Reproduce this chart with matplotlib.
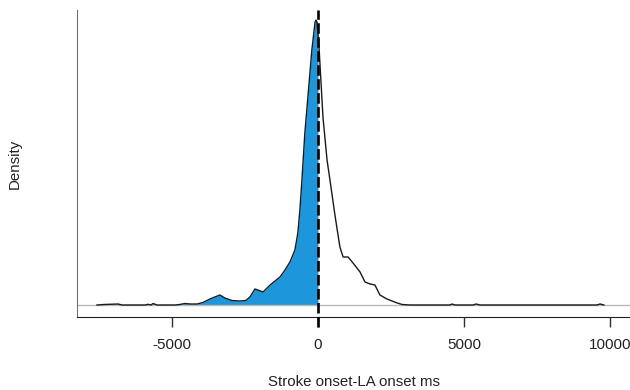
import numpy as np
import matplotlib
matplotlib.use("Agg")
import matplotlib.pyplot as plt

plt.rcParams['font.family'] = ['Liberation Sans', 'DejaVu Sans']

# Density estimate (x in ms, density in units of 1e-4)
onset_ms = [-7570, -7330, -6850, -6710, -5920, -5820, -5720, -5650, -5510,
            -4900, -4730, -4560, -4380, -4140, -3940, -3700, -3530, -3360,
            -3190, -2950, -2670, -2470, -2330, -2160, -2060, -1880, -1640,
            -1300, -1130, -960, -790, -690, -620, -550, -450, -340, -210,
            -100, -70, -35, 0, 35, 170, 310, 410, 580, 750, 860, 1030, 1200,
            1440, 1610, 1780, 1950, 2120, 2360, 2710, 2880, 3150, 4520, 4590,
            4690, 5310, 5410, 5550, 9550, 9660, 9790]
density = [0.0, 0.013, 0.026, 0.0, 0.0, 0.018, 0.0, 0.039, 0.0,
           0.0, 0.013, 0.039, 0.026, 0.026, 0.066, 0.158, 0.211, 0.263,
           0.184, 0.118, 0.105, 0.118, 0.211, 0.421, 0.395, 0.342, 0.526,
           0.737, 0.921, 1.132, 1.447, 1.895, 2.50, 3.289, 4.526, 5.526, 6.711,
           7.447, 7.50, 7.447, 7.132, 6.789, 4.947, 3.816, 3.289, 2.368, 1.526,
           1.263, 1.263, 1.105, 0.868, 0.605, 0.553, 0.526, 0.263, 0.158,
           0.053, 0.013, 0.0, 0.0, 0.026, 0.0, 0.0, 0.026, 0.0, 0.0, 0.026, 0.0]

x = np.array(onset_ms, dtype=float)
y = np.array(density) * 1e-4

W, H = 630, 390
fig = plt.figure(figsize=(W / 100, H / 100), dpi=100)
ax = fig.add_axes([77 / W, 73 / H, 553 / W, 307 / H])

left = x <= 0
ax.fill_between(x[left], 0, y[left], color='#1e96dc', linewidth=0)
ax.axhline(0, color='#b8b8b8', lw=1.0, zorder=1)
ax.plot(x, y, color='#1a1a1a', lw=1.0, zorder=3)
ax.axvline(0, ymin=-0.033, ymax=1, color='black', lw=1.9,
           dashes=(4, 1.3), clip_on=False, zorder=4)

ax.set_xlim(-8253, 10685)
ax.set_ylim(-0.316e-4, 7.763e-4)

ax.spines['top'].set_visible(False)
ax.spines['right'].set_visible(False)
ax.spines['left'].set_color('#707070')
ax.spines['bottom'].set_color('#202020')
ax.set_yticks([])
ax.set_xticks([-5000, 0, 5000, 10000])
ax.set_xticklabels(['-5000', '0', '5000', '10000'])
ax.tick_params(axis='x', length=7, width=1, color='#303030', pad=8,
               labelsize=11, labelcolor='#222222')

fig.text(353.5 / W, 1 - 382 / H, 'Stroke onset-LA onset ms', ha='center',
         va='center', fontsize=10.8, color='#222222')
fig.text(15 / W, 1 - 164 / H, 'Density', rotation=90, ha='center',
         va='center', fontsize=10.8, color='#222222')

fig.savefig('out.png', dpi=100)
